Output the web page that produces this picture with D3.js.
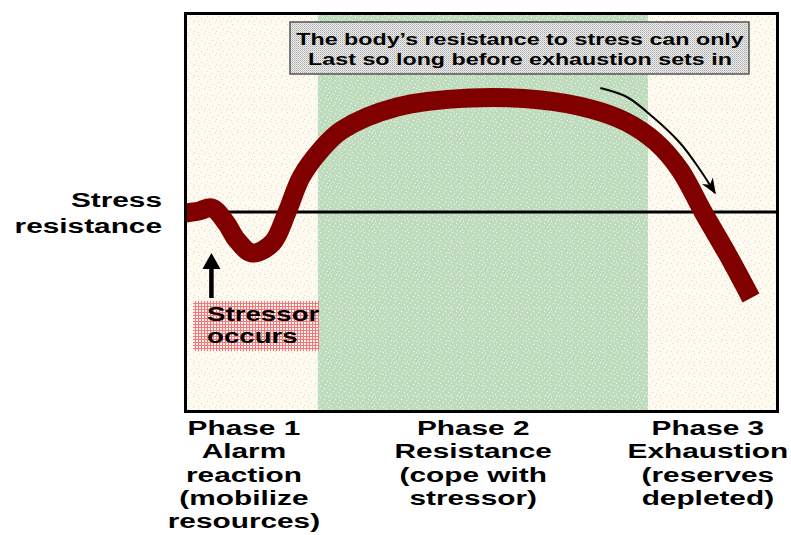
<!DOCTYPE html>
<html>
<head>
<meta charset="utf-8">
<script src="https://cdn.jsdelivr.net/npm/d3@7"></script>
<style>
  body { margin: 0; background: #fff; }
  svg text { font-family: "Liberation Sans", Arial, sans-serif; font-weight: bold; fill: #000; }
</style>
</head>
<body>
<div id="chart"></div>
<script>
// phases of the general adaptation syndrome (x in % of time axis)
const phaseBounds = [0, 22.3, 78.2, 100];
const phaseLabels = [
    ["Phase 1", "Alarm", "reaction", "(mobilize", "resources)"],
    ["Phase 2", "Resistance", "(cope with", "stressor)"],
    ["Phase 3", "Exhaustion", "(reserves", "depleted)"]
];
const phaseCenters = [9.8, 48.6, 88.3];

// resistance curve, baseline = 0
const curveT = [0, 2.2, 4.4, 6.8, 8.6, 11.2, 14.6, 17.1, 19.5, 22.8, 26.4, 35.7, 48.1, 60.0, 68.5, 74.5, 79.5, 83.6, 87.5, 91.7, 95.6];
const curveV = [-1, 1, 4, -11, -28, -41, -31, 0, 35, 62, 82, 105, 114, 112, 103, 90, 70, 42, 0, -43, -86];
const baselineValue = 0;

// arrows
const stressorT = 4.3;
const stressorV = [-86, -41];
const exhaustT = [70.1, 74.6, 79.0, 83.6, 87.0, 89.5];
const exhaustV = [124, 115, 95, 69, 42, 19];

const yLabel = ["Stress", "resistance"];
const noteLines = ["The body\u2019s resistance to stress can only", "Last so long before exhaustion sets in"];
const stressorLines = ["Stressor", "occurs"];

const W = 791, H = 535;
const frame = { left: 186, right: 777, top: 14, bottom: 411 };
const SX = 1.42; // the original lettering is stretched horizontally

const svg = d3.select("#chart").append("svg")
    .attr("width", W)
    .attr("height", H);

const x = d3.scaleLinear().domain([0, 100]).range([frame.left, frame.right]);
const y = d3.scaleLinear().domain([-200, 200]).range([frame.bottom + 1, frame.top - 2]);

// textures
const defs = svg.append("defs");
function speckle(id, bg, dot, dots) {
    const p = defs.append("pattern").attr("id", id)
        .attr("patternUnits", "userSpaceOnUse").attr("width", 11).attr("height", 11);
    p.append("rect").attr("width", 11).attr("height", 11).attr("fill", bg);
    dots.forEach(d => p.append("rect").attr("x", d[0]).attr("y", d[1]).attr("width", 1).attr("height", 1).attr("fill", dot));
}
speckle("cream", "#fffaf0", "#cfe0cc", [[1, 2], [6, 0], [9, 5], [3, 7], [7, 9], [0, 10]]);
speckle("green", "#bfdcbf", "#f2f8ea", [[1, 1], [5, 3], [9, 0], [3, 6], [8, 7], [0, 9], [6, 10], [10, 4]]);

const grey = defs.append("pattern").attr("id", "grey")
    .attr("patternUnits", "userSpaceOnUse").attr("width", 2).attr("height", 2);
grey.append("rect").attr("width", 2).attr("height", 2).attr("fill", "#eeeeee");
grey.append("rect").attr("width", 1).attr("height", 1).attr("fill", "#a8a8a8");
grey.append("rect").attr("x", 1).attr("y", 1).attr("width", 1).attr("height", 1).attr("fill", "#c8c8c8");

const pink = defs.append("pattern").attr("id", "pink")
    .attr("patternUnits", "userSpaceOnUse").attr("width", 3).attr("height", 3);
pink.append("rect").attr("width", 3).attr("height", 3).attr("fill", "#fff0f0");
pink.append("rect").attr("width", 3).attr("height", 1).attr("fill", "#f07878");
pink.append("rect").attr("width", 1).attr("height", 3).attr("fill", "#f07878");

defs.append("marker").attr("id", "head")
    .attr("viewBox", "0 0 10 10").attr("refX", 9).attr("refY", 5)
    .attr("markerWidth", 16).attr("markerHeight", 16).attr("markerUnits", "userSpaceOnUse")
    .attr("orient", "auto")
    .append("path").attr("d", "M0,1 L10,5 L0,9 L3,5 Z").attr("fill", "#000");

// phase bands
svg.selectAll(".band")
    .data(d3.range(3))
    .enter().append("rect")
    .attr("class", "band")
    .attr("x", i => x(phaseBounds[i]))
    .attr("y", frame.top)
    .attr("width", i => x(phaseBounds[i + 1]) - x(phaseBounds[i]))
    .attr("height", frame.bottom - frame.top)
    .attr("fill", i => i === 1 ? "url(#green)" : "url(#cream)");

// baseline
svg.append("line")
    .attr("x1", frame.left).attr("x2", frame.right)
    .attr("y1", y(baselineValue)).attr("y2", y(baselineValue))
    .attr("stroke", "#000").attr("stroke-width", 3);

// note box
const note = svg.append("g");
note.append("rect")
    .attr("x", 290).attr("y", 22).attr("width", 459).attr("height", 52)
    .attr("fill", "url(#grey)").attr("stroke", "#555").attr("stroke-width", 1.5);
noteLines.forEach((t, i) => {
    note.append("text")
        .attr("transform", `translate(520,${45 + i * 20}) scale(1.41,1)`)
        .attr("text-anchor", "middle")
        .style("font-size", "16.5px")
        .text(t);
});

// stressor box
svg.append("rect")
    .attr("x", 193).attr("y", 301).attr("width", 126).attr("height", 50)
    .attr("fill", "url(#pink)");
stressorLines.forEach((t, i) => {
    svg.append("text")
        .attr("transform", `translate(207,${321 + i * 22}) scale(${SX},1)`)
        .style("font-size", "19.5px")
        .text(t);
});

// stressor arrow
svg.append("line")
    .attr("x1", x(stressorT)).attr("x2", x(stressorT))
    .attr("y1", y(stressorV[0])).attr("y2", y(stressorV[1]) + 13)
    .attr("stroke", "#000").attr("stroke-width", 4.5);
svg.append("path")
    .attr("d", `M${x(stressorT)},${y(stressorV[1])} l-9,16 l18,0 Z`)
    .attr("fill", "#000");

// resistance curve
const line = d3.line()
    .x((d, i) => x(curveT[i]))
    .y(d => y(d))
    .curve(d3.curveCatmullRom.alpha(0.5));

svg.append("path")
    .datum(curveV)
    .attr("fill", "none")
    .attr("stroke", "#800000")
    .attr("stroke-width", 19)
    .attr("d", line);

// exhaustion arrow
const arrowLine = d3.line()
    .x((d, i) => x(exhaustT[i]))
    .y(d => y(d))
    .curve(d3.curveCatmullRom);
svg.append("path")
    .datum(exhaustV)
    .attr("fill", "none")
    .attr("stroke", "#000")
    .attr("stroke-width", 2)
    .attr("marker-end", "url(#head)")
    .attr("d", arrowLine);

// frame
svg.append("rect")
    .attr("x", frame.left - 0.5).attr("y", frame.top - 0.5)
    .attr("width", frame.right - frame.left + 1).attr("height", frame.bottom - frame.top + 1)
    .attr("fill", "none").attr("stroke", "#000").attr("stroke-width", 3);

// y label
yLabel.forEach((t, i) => {
    svg.append("text")
        .attr("transform", `translate(162,${207 + i * 26}) scale(${SX},1)`)
        .attr("text-anchor", "end")
        .style("font-size", "21px")
        .text(t);
});

// phase labels
phaseLabels.forEach((lines, p) => {
    lines.forEach((t, i) => {
        svg.append("text")
            .attr("transform", `translate(${x(phaseCenters[p])},${435 + i * 23.3}) scale(${SX},1)`)
            .attr("text-anchor", "middle")
            .style("font-size", "21px")
            .text(t);
    });
});
</script>
</body>
</html>
